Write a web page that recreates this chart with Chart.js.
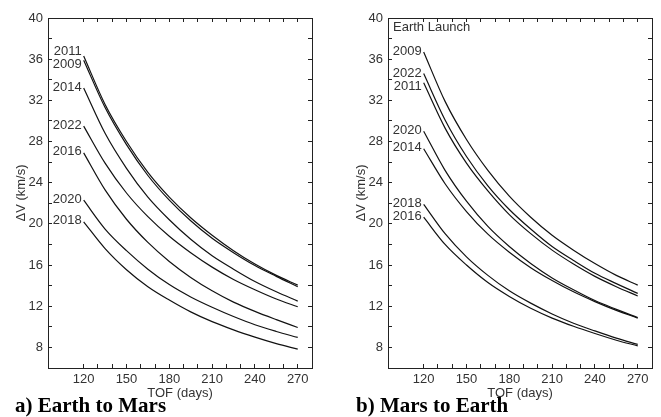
<!DOCTYPE html>
<html>
<head>
<meta charset="utf-8">
<script src="https://cdn.jsdelivr.net/npm/chart.js@4"></script>
<style>
  body { margin: 0; background: #fff; width: 661px; height: 417px; position: relative; overflow: hidden; }
  .panel { position: absolute; top: 0; height: 417px; }
  .cap { position: absolute; top: 395px; font: bold 21px/21px "Liberation Serif", "Times New Roman", serif; color: #000; white-space: nowrap; }
</style>
</head>
<body>
<div class="panel" style="left:0;width:330px"><canvas id="em" width="330" height="417"></canvas></div>
<div class="panel" style="left:330px;width:331px"><canvas id="me" width="331" height="417"></canvas></div>
<div class="cap" style="left:15px">a) Earth to Mars</div>
<div class="cap" style="left:356px">b) Mars to Earth</div>
<script>
// time of flight (days) sampled along every curve
const days = [120, 135, 150, 165, 180, 195, 210, 225, 240, 255, 270];

// tick values
const dayTicks = [120, 130, 140, 150, 160, 170, 180, 190, 200, 210, 220, 230, 240, 250, 260, 270];
const dayLabels = [120, 150, 180, 210, 240, 270];
const dvTicks = [8, 10, 12, 14, 16, 18, 20, 22, 24, 26, 28, 30, 32, 34, 36, 38, 40];
const dvLabels = [8, 12, 16, 20, 24, 28, 32, 36, 40];

// a) Earth to Mars, delta-V (km/s) per launch year
const emYears = ['2011', '2009', '2014', '2022', '2016', '2020', '2018'];
const em2011 = [36.3, 31.6, 28.0, 25.0, 22.6, 20.6, 18.9, 17.4, 16.1, 15.0, 14.05];
const em2009 = [35.9, 31.3, 27.7, 24.7, 22.3, 20.3, 18.6, 17.2, 15.95, 14.9, 13.9];
const em2014 = [33.2, 28.8, 25.4, 22.6, 20.4, 18.5, 16.9, 15.6, 14.4, 13.4, 12.5];
const em2022 = [29.5, 25.9, 23.0, 20.7, 18.8, 17.2, 15.8, 14.6, 13.6, 12.7, 11.95];
const em2016 = [26.9, 23.3, 20.45, 18.2, 16.35, 14.8, 13.5, 12.4, 11.5, 10.7, 9.94];
const em2020 = [22.3, 19.5, 17.4, 15.6, 14.1, 12.9, 11.9, 11.0, 10.2, 9.55, 8.97];
const em2018 = [20.2, 17.6, 15.55, 13.9, 12.6, 11.45, 10.5, 9.7, 9.0, 8.37, 7.83];

// b) Mars to Earth, delta-V (km/s) per Earth launch year
const meYears = ['2009', '2022', '2011', '2020', '2014', '2018', '2016'];
const me2009 = [36.7, 31.9, 28.2, 25.2, 22.7, 20.65, 18.9, 17.45, 16.15, 15.0, 14.05];
const me2022 = [34.6, 30.1, 26.55, 23.7, 21.4, 19.5, 17.8, 16.45, 15.2, 14.2, 13.25];
const me2011 = [33.7, 29.3, 25.9, 23.2, 20.9, 19.05, 17.45, 16.1, 14.9, 13.9, 13.0];
const me2020 = [29.0, 25.2, 22.2, 19.75, 17.8, 16.15, 14.75, 13.6, 12.55, 11.7, 10.9];
const me2014 = [27.3, 23.9, 21.2, 19.0, 17.25, 15.75, 14.5, 13.4, 12.45, 11.6, 10.85];
const me2018 = [21.9, 19.05, 16.8, 15.0, 13.5, 12.3, 11.25, 10.35, 9.6, 8.9, 8.3];
const me2016 = [20.65, 18.0, 16.0, 14.3, 12.95, 11.8, 10.85, 10.05, 9.35, 8.7, 8.15];

const font = { family: '"Liberation Sans", Arial, sans-serif', size: 13 };
const ink = '#333';
const frame = '#222';

// year labels sit just left of each curve's first point
const curveLabels = {
  id: 'curveLabels',
  afterDatasetsDraw(chart, args, opts) {
    const { ctx } = chart;
    const x = chart.scales.x, y = chart.scales.y;
    ctx.save();
    ctx.font = '13px "Liberation Sans", Arial, sans-serif';
    ctx.fillStyle = ink;
    ctx.textAlign = 'right';
    ctx.textBaseline = 'middle';
    chart.data.datasets.forEach(ds => {
      const p = ds.data[0];
      const nudge = opts.nudge[ds.label] !== undefined ? opts.nudge[ds.label] : -1;
      ctx.fillText(ds.label, x.getPixelForValue(p.x) - 2, y.getPixelForValue(p.y) + nudge);
    });
    if (opts.note) {
      ctx.textAlign = 'left';
      ctx.fillText(opts.note, x.left + 5, y.top + 9);
    }
    ctx.restore();
  }
};

function makeChart(id, years, series, yWidth, padRight, titlePad, nudge, note) {
  const tickCb = list => v => list.includes(v) ? String(v) : '';
  const edge = (pos, list, size) => ({
    type: 'linear',
    position: pos,
    min: pos === 'top' ? 95 : 6,
    max: pos === 'top' ? 280 : 40,
    afterBuildTicks: s => { s.ticks = list.map(v => ({ value: v })); },
    afterFit: s => { if (pos === 'top') s.height = size; else s.width = size; },
    ticks: { callback: () => '', autoSkip: false },
    grid: { drawOnChartArea: false, tickLength: -4, color: frame },
    border: { color: frame, width: 1 }
  });

  return new Chart(document.getElementById(id), {
    type: 'line',
    data: {
      datasets: years.map((yr, i) => ({
        label: yr,
        data: days.map((d, j) => ({ x: d, y: series[i][j] })),
        borderColor: '#111',
        borderWidth: 1.2,
        pointRadius: 0,
        cubicInterpolationMode: 'monotone',
        fill: false
      }))
    },
    options: {
      responsive: false,
      devicePixelRatio: 1,
      animation: false,
      layout: { padding: { top: 18, right: padRight, left: 0, bottom: 0 } },
      plugins: {
        legend: { display: false },
        tooltip: { enabled: false },
        curveLabels: { nudge: nudge, note: note }
      },
      scales: {
        x: {
          type: 'linear',
          position: 'bottom',
          min: 95,
          max: 280,
          afterBuildTicks: s => { s.ticks = dayTicks.map(v => ({ value: v })); },
          afterFit: s => { s.height = 49; },
          ticks: { callback: tickCb(dayLabels), autoSkip: false, maxRotation: 0, padding: 8, font: font, color: ink },
          grid: { drawOnChartArea: false, tickLength: -4, color: frame },
          border: { color: frame, width: 1 },
          title: { display: true, text: 'TOF (days)', font: font, color: ink, padding: { top: 0, bottom: 16 } }
        },
        y: {
          type: 'linear',
          position: 'left',
          min: 6,
          max: 40,
          afterBuildTicks: s => { s.ticks = dvTicks.map(v => ({ value: v })); },
          afterFit: s => { s.width = yWidth; },
          ticks: { callback: tickCb(dvLabels), autoSkip: false, padding: 9, font: font, color: ink },
          grid: { drawOnChartArea: false, tickLength: -4, color: frame },
          border: { color: frame, width: 1 },
          title: { display: true, text: 'ΔV (km/s)', font: font, color: ink, padding: { top: titlePad, bottom: 0 } }
        },
        x2: edge('top', dayTicks, 0),
        y2: edge('right', dvTicks, 0)
      }
    },
    plugins: [curveLabels]
  });
}

makeChart('em', emYears, [em2011, em2009, em2014, em2022, em2016, em2020, em2018],
  48, 18, 14, { '2011': -4.5, '2009': 4.5 }, null);
makeChart('me', meYears, [me2009, me2022, me2011, me2020, me2014, me2018, me2016],
  58, 9, 24, { '2022': 0, '2011': 3.5 }, 'Earth Launch');
</script>
</body>
</html>
